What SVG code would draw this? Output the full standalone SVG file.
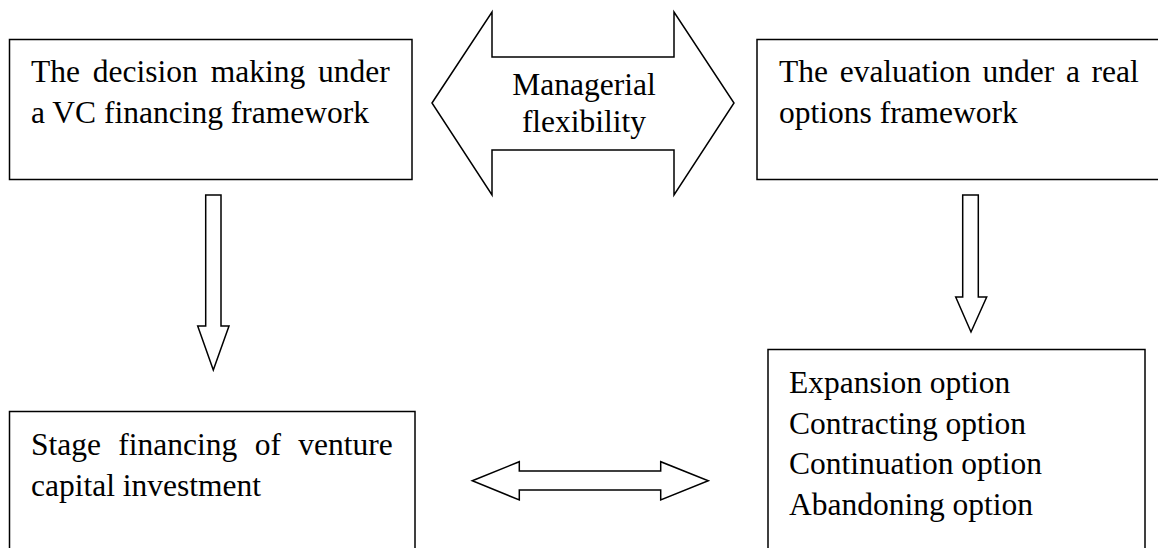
<svg xmlns="http://www.w3.org/2000/svg" width="1158" height="548" viewBox="0 0 1158 548">
<style>
.box{fill:#fff;stroke:#000;stroke-width:1.5}
.arr{fill:#fff;stroke:#000;stroke-width:1.5;stroke-linejoin:miter}
text{font-family:"Liberation Serif","Times New Roman",serif;font-size:31.5px;fill:#000}
</style>
<rect width="1158" height="548" fill="#fff"/>
<g id="node-vc-decision">
<rect class="box" x="9.5" y="39.5" width="402.5" height="140"/>
<text x="31" y="82" word-spacing="5">The decision making under</text>
<text x="31" y="123">a VC financing framework</text>
</g>
<g id="node-real-options">
<rect class="box" x="757" y="39.5" width="420" height="140"/>
<text x="779" y="82" word-spacing="3.8">The evaluation under a real</text>
<text x="779" y="123">options framework</text>
</g>
<g id="node-stage-financing">
<rect class="box" x="9.5" y="411.5" width="405.5" height="200"/>
<text x="31" y="455" word-spacing="9.5">Stage financing of venture</text>
<text x="31" y="496">capital investment</text>
</g>
<g id="node-options">
<rect class="box" x="768" y="349.5" width="377" height="250"/>
<text x="789" y="393">Expansion option</text>
<text x="789" y="433.5">Contracting option</text>
<text x="789" y="474">Continuation option</text>
<text x="789" y="514.5">Abandoning option</text>
</g>
<g id="connectors">
<g id="managerial-flexibility">
<polygon class="arr" points="432,103 492,12 492,57 674,57 674,12 734,103 674,195 674,150 492,150 492,195"/>
<text x="584" y="95" text-anchor="middle">Managerial</text>
<text x="584" y="132" text-anchor="middle">flexibility</text>
</g>
<polygon class="arr" points="205.7,195 221,195 221,326 229,326 213.3,370 197.7,326 205.7,326"/>
<polygon class="arr" points="962.7,195 978.3,195 978.3,297 986.7,297 971,332 955.7,297 962.7,297"/>
<polygon class="arr" points="472.3,480.7 519.3,461.7 519.3,471 660.7,471 660.7,461.7 708.3,480.7 660.7,500 660.7,490 519.3,490 519.3,500"/>
</g>
</svg>
